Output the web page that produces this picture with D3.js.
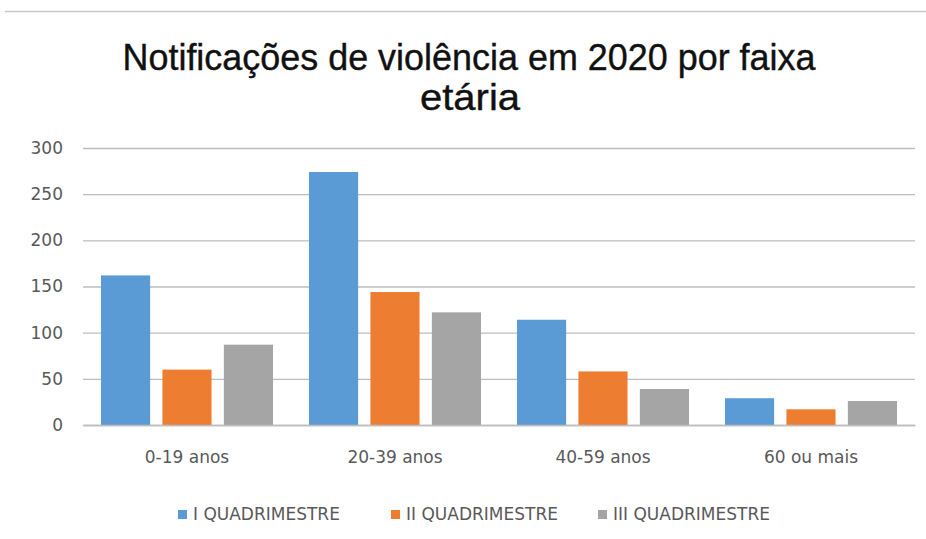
<!DOCTYPE html>
<html>
<head>
<meta charset="utf-8">
<script src="https://cdn.jsdelivr.net/npm/d3@7"></script>
<style>
  body { margin: 0; background: #fff; }
  svg { display: block; }
</style>
</head>
<body>
<div id="chart"></div>
<script>
var w = 926;
var h = 539;

// chart data
var categories = ["0-19 anos", "20-39 anos", "40-59 anos", "60 ou mais"];
var seriesNames = ["I QUADRIMESTRE", "II QUADRIMESTRE", "III QUADRIMESTRE"];
var quad1 = [162, 274, 114, 29];
var quad2 = [60, 144, 58, 17];
var quad3 = [87, 122, 39, 26];
var yTicks = [0, 50, 100, 150, 200, 250, 300];
var colors = ["#5b9bd5", "#ed7d31", "#a5a5a5"];

var seriesValues = [quad1, quad2, quad3];
var labelFont = "'DejaVu Sans', Verdana, sans-serif";

var svg = d3.select("#chart").append("svg")
    .attr("width", w)
    .attr("height", h);

// top edge of the original chart box
svg.append("line")
    .attr("x1", 5).attr("x2", w)
    .attr("y1", 11.5).attr("y2", 11.5)
    .attr("stroke", "#c8c8c8").attr("stroke-width", 1.5);

// title, two lines
var title = svg.append("g")
    .attr("font-family", "'Liberation Sans Narrow', 'Liberation Sans', sans-serif")
    .attr("font-size", 37)
    .attr("fill", "#111")
    .attr("stroke", "#111").attr("stroke-width", 0.4)
    .attr("text-anchor", "middle");
title.append("text").attr("x", 469).attr("y", 70)
    .attr("textLength", 693).attr("lengthAdjust", "spacingAndGlyphs")
    .text("Notificações de violência em 2020 por faixa");
title.append("text").attr("x", 470).attr("y", 110)
    .attr("textLength", 100).attr("lengthAdjust", "spacingAndGlyphs")
    .text("etária");

// scales
var x0 = d3.scaleBand().domain(categories).range([83, 915]).padding(0);
var x1 = d3.scaleBand().domain(seriesNames).range([18, 190]).paddingInner(0.2);
var y = d3.scaleLinear().domain([0, 300]).range([425, 148]);

// gridlines + y labels
var yAxis = d3.axisLeft(y)
    .tickValues(yTicks)
    .tickSize(-(915 - 83))
    .tickPadding(20);
var gy = svg.append("g").attr("transform", "translate(83,0)").call(yAxis);
gy.select(".domain").remove();
gy.selectAll(".tick line").attr("stroke", "#bdbdbd").attr("stroke-width", 1.3);
gy.selectAll(".tick text")
    .attr("font-family", labelFont)
    .attr("font-size", 17)
    .attr("fill", "#595959");

// bars
var groups = svg.append("g").selectAll("g")
    .data(categories)
    .enter().append("g")
    .attr("transform", d => "translate(" + x0(d) + ",0)");

groups.selectAll("rect")
    .data((d, i) => seriesNames.map((s, j) => ({ s: s, j: j, v: seriesValues[j][i] })))
    .enter().append("rect")
    .attr("x", d => x1(d.s))
    .attr("width", x1.bandwidth())
    .attr("y", d => y(d.v))
    .attr("height", d => y(0) - y(d.v))
    .attr("fill", d => colors[d.j]);

// x labels
var xAxis = d3.axisBottom(x0).tickSize(0).tickPadding(26);
var gx = svg.append("g").attr("transform", "translate(0,425)").call(xAxis);
gx.select(".domain").attr("stroke", "#bdbdbd").attr("stroke-width", 1.3);
gx.selectAll(".tick text")
    .attr("font-family", labelFont)
    .attr("font-size", 17)
    .attr("fill", "#595959");

// legend
var legendX = [178, 391, 598];
var legend = svg.append("g").selectAll("g")
    .data(seriesNames)
    .enter().append("g")
    .attr("transform", (d, i) => "translate(" + legendX[i] + ",509)");
legend.append("rect")
    .attr("width", 9).attr("height", 9)
    .attr("y", 1)
    .attr("fill", (d, i) => colors[i]);
legend.append("text")
    .attr("x", 15).attr("y", 11)
    .attr("font-family", labelFont)
    .attr("font-size", 17)
    .attr("fill", "#595959")
    .text(d => d);
</script>
</body>
</html>
